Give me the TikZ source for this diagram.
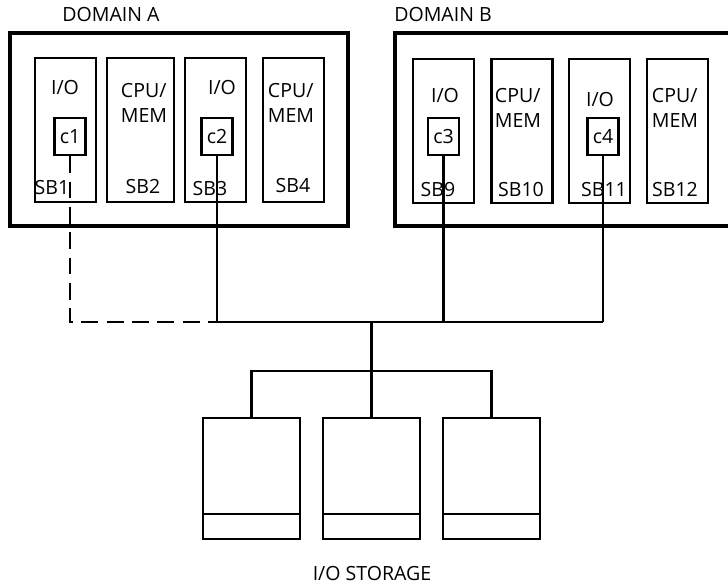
\documentclass[tikz,border=0pt]{standalone}
\usepackage{fontspec}
\setmainfont{Open Sans}

\begin{document}
\begin{tikzpicture}[x=0.025cm,y=-0.025cm,
    domainbox/.style={draw,line width=3.2pt,minimum height=4.825cm,inner sep=0pt},
    board/.style={draw,line width=2pt,minimum width=1.525cm,minimum height=3.6cm,inner sep=0pt},
    card/.style={draw,line width=1.8pt,minimum width=0.775cm,minimum height=0.925cm,inner sep=0pt,font=\fontsize{13.9}{17.8}\selectfont},
    disk/.style={draw,line width=2pt,minimum width=2.425cm,minimum height=3.025cm,inner sep=0pt,
      path picture={\draw[line width=2pt] ([yshift=0.625cm]path picture bounding box.south west) -- ([yshift=0.625cm]path picture bounding box.south east);}},
    txt/.style={inner sep=0pt,font=\fontsize{13.9}{17.8}\selectfont,align=left},
    link/.style={line width=1.5pt},
    bus/.style={line width=2pt}]
\useasboundingbox (0,0) rectangle (728,586);
% domains
\node[domainbox,minimum width=8.45cm] (domA) at (179,129.5) {};
\node[domainbox,minimum width=8.875cm] (domB) at (572.5,129.5) {};
\node[txt] (nameA) at (111,15) {DOMAIN A};
\node[txt] (nameB) at (443,15) {DOMAIN B};
% system boards
\node[board] (sb1) at (65.5,130) {};
\node[board,minimum width=1.675cm] (sb2) at (140.5,130) {};
\node[board] (sb3) at (215.5,130) {};
\node[board] (sb4) at (293.5,130) {};
\node[board] (sb9) at (443.5,131) {};
\node[board] (sb10) at (522,131) {};
\node[board] (sb11) at (599.5,131) {};
\node[board] (sb12) at (677.5,131) {};
\node[txt] (io1) at (65,88) {I/O};
\node[txt] (cpu2) at (144,102.5) {CPU/\\MEM};
\node[txt] (io3) at (222,88) {I/O};
\node[txt] (cpu4) at (291,102.5) {CPU/\\MEM};
\node[txt] (io9) at (445,96) {I/O};
\node[txt] (cpu10) at (518,108) {CPU/\\MEM};
\node[txt] (io11) at (600,100) {I/O};
\node[txt] (cpu12) at (675,108) {CPU/\\MEM};
\node[txt] (lb1) at (52,188) {SB1};
\node[txt] (lb2) at (143,187) {SB2};
\node[txt] (lb3) at (210,189) {SB3};
\node[txt] (lb4) at (293,186) {SB4};
\node[txt] (lb9) at (438,190) {SB9};
\node[txt] (lb10) at (521,190) {SB10};
\node[txt] (lb11) at (604,190) {SB11};
\node[txt] (lb12) at (675,190) {SB12};
% controllers
\node[card] (c1) at (70,136.5) {c1};
\node[card] (c2) at (217,136.5) {c2};
\node[card] (c3) at (443.5,136.5) {c3};
\node[card] (c4) at (603,136.5) {c4};
% i/o bus
\coordinate (busA) at (217,322);
\coordinate (busB) at (603,322);
\coordinate (tap) at (371.5,322);
\coordinate (split) at (371.5,371);
\draw[link] (c2.south) -- (busA);
\draw[link] (c3.south) -- (c3 |- busA);
\draw[link] (c4.south) -- (busB);
\draw[bus] (busA) -- (busB);
\draw[bus,dash pattern=on 12pt off 6pt] (c1.south) |- (busA);
\draw[bus] (tap) -- (split);
% storage
\node[disk] (disk1) at (251.5,478.5) {};
\node[disk] (disk2) at (371.5,478.5) {};
\node[disk] (disk3) at (491.5,478.5) {};
\draw[line width=2pt] (disk1.north) |- (split) -| (disk3.north);
\draw[line width=2pt] (split) -- (disk2.north);
\node[txt] (store) at (372,573) {I/O STORAGE};
\end{tikzpicture}
\end{document}
